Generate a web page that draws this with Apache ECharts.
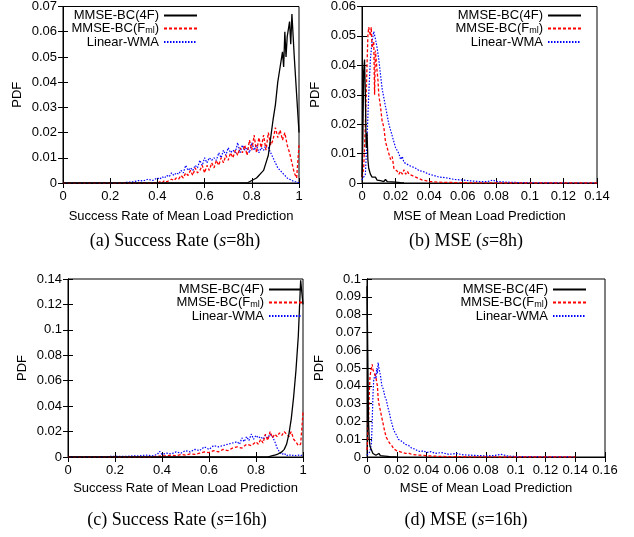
<!DOCTYPE html>
<html><head><meta charset="utf-8">
<script src="https://cdn.jsdelivr.net/npm/echarts@6/dist/echarts.min.js"></script>
<style>html,body{margin:0;padding:0;background:#fff}#c{width:634px;height:537px}</style>
</head><body><div id="c"></div>
<script>
// ---------- data: [x, pdf] pairs ----------
// (a) Success rate, s=8h
var aBlack = [[0,0],[0.78,0],[0.79,0.0005],[0.80,0.001],[0.81,0.0015],[0.82,0.002],[0.83,0.003],[0.84,0.004],[0.85,0.005],[0.86,0.008],[0.87,0.011],[0.88,0.018],[0.89,0.025],[0.90,0.031],[0.91,0.040],[0.92,0.046],[0.93,0.052],[0.935,0.046],[0.94,0.060],[0.945,0.050],[0.95,0.058],[0.96,0.064],[0.965,0.055],[0.97,0.067],[0.98,0.050],[0.99,0.035],[1.00,0.020]];
var aRed = [[0,0],[0.40,0],[0.41,0.0005],[0.42,0],[0.43,0.001],[0.44,0.0005],[0.45,0.001],[0.46,0.0015],[0.47,0.001],[0.48,0.002],[0.49,0.0015],[0.50,0.003],[0.51,0.002],[0.52,0.004],[0.53,0.003],[0.54,0.005],[0.55,0.003],[0.56,0.006],[0.57,0.004],[0.58,0.005],[0.59,0.007],[0.60,0.004],[0.61,0.007],[0.62,0.005],[0.63,0.008],[0.64,0.006],[0.65,0.009],[0.66,0.007],[0.67,0.010],[0.68,0.008],[0.69,0.011],[0.70,0.009],[0.71,0.012],[0.72,0.010],[0.73,0.013],[0.74,0.011],[0.75,0.014],[0.76,0.012],[0.77,0.015],[0.78,0.011],[0.79,0.017],[0.80,0.013],[0.81,0.019],[0.82,0.012],[0.83,0.018],[0.84,0.014],[0.85,0.019],[0.86,0.013],[0.87,0.020],[0.88,0.015],[0.89,0.017],[0.90,0.022],[0.91,0.018],[0.92,0.021],[0.93,0.017],[0.94,0.020],[0.95,0.015],[0.96,0.012],[0.97,0.008],[0.98,0.004],[0.99,0.002],[1.00,0.015]];
var aBlue = [[0,0],[0.25,0],[0.27,0.0003],[0.30,0.0005],[0.32,0.001],[0.34,0.0008],[0.36,0.0015],[0.38,0.001],[0.40,0.002],[0.41,0.0015],[0.42,0.0025],[0.43,0.002],[0.44,0.003],[0.45,0.0025],[0.46,0.004],[0.47,0.003],[0.48,0.004],[0.49,0.0035],[0.50,0.005],[0.51,0.004],[0.52,0.007],[0.53,0.005],[0.54,0.006],[0.55,0.005],[0.56,0.007],[0.57,0.006],[0.58,0.009],[0.59,0.007],[0.60,0.010],[0.61,0.008],[0.62,0.010],[0.63,0.009],[0.64,0.010],[0.65,0.009],[0.66,0.012],[0.67,0.010],[0.68,0.013],[0.69,0.011],[0.70,0.014],[0.71,0.012],[0.72,0.013],[0.73,0.012],[0.74,0.016],[0.75,0.012],[0.76,0.015],[0.77,0.013],[0.78,0.014],[0.79,0.012],[0.80,0.016],[0.81,0.013],[0.82,0.015],[0.83,0.012],[0.84,0.014],[0.85,0.013],[0.86,0.015],[0.87,0.014],[0.88,0.012],[0.89,0.010],[0.90,0.008],[0.91,0.006],[0.92,0.005],[0.93,0.004],[0.94,0.003],[0.95,0.002],[0.96,0.0015],[0.97,0.001],[0.98,0.0005],[0.99,0.0005],[1.00,0]];
// (b) MSE, s=8h
var bBlack = [[0,0.002],[0.0005,0.015],[0.001,0.038],[0.0015,0.042],[0.002,0.030],[0.0025,0.012],[0.003,0.017],[0.0035,0.008],[0.004,0.005],[0.005,0.003],[0.006,0.002],[0.007,0.0015],[0.008,0.002],[0.009,0.001],[0.010,0.0015],[0.011,0.0008],[0.012,0.001],[0.013,0.0005],[0.014,0.0012],[0.015,0.0005],[0.016,0.0008],[0.018,0.0004],[0.020,0.0003],[0.023,0.0001],[0.025,0]];
var bRed = [[0,0.002],[0.001,0.005],[0.002,0.020],[0.003,0.040],[0.0035,0.050],[0.004,0.053],[0.005,0.050],[0.0055,0.053],[0.006,0.046],[0.007,0.048],[0.0075,0.030],[0.008,0.045],[0.009,0.038],[0.0095,0.035],[0.010,0.030],[0.011,0.026],[0.012,0.021],[0.013,0.019],[0.014,0.014],[0.015,0.012],[0.016,0.010],[0.017,0.008],[0.018,0.009],[0.019,0.005],[0.020,0.005],[0.021,0.004],[0.022,0.003],[0.023,0.004],[0.024,0.003],[0.025,0.0045],[0.026,0.003],[0.027,0.004],[0.028,0.003],[0.030,0.0025],[0.032,0.002],[0.034,0.0015],[0.036,0.001],[0.038,0.0008],[0.040,0.0005],[0.045,0.0003],[0.050,0.0002],[0.060,0.0001],[0.080,0],[0.140,0]];
var bBlue = [[0,0.001],[0.002,0.003],[0.003,0.015],[0.004,0.030],[0.005,0.042],[0.006,0.048],[0.007,0.0515],[0.008,0.049],[0.009,0.046],[0.010,0.042],[0.011,0.037],[0.012,0.032],[0.013,0.029],[0.014,0.026],[0.015,0.023],[0.016,0.020],[0.017,0.018],[0.018,0.016],[0.019,0.014],[0.020,0.012],[0.021,0.011],[0.022,0.010],[0.023,0.008],[0.024,0.009],[0.025,0.007],[0.026,0.0075],[0.028,0.006],[0.030,0.0055],[0.032,0.005],[0.034,0.0042],[0.036,0.004],[0.038,0.0035],[0.040,0.003],[0.043,0.0025],[0.046,0.002],[0.050,0.0018],[0.055,0.0012],[0.060,0.001],[0.065,0.0007],[0.070,0.0005],[0.075,0.0005],[0.078,0.001],[0.080,0.0005],[0.090,0.0002],[0.100,0.0001],[0.120,0],[0.140,0]];
// (c) Success rate, s=16h
var cBlack = [[0,0],[0.85,0],[0.86,0.0005],[0.87,0.001],[0.88,0.0015],[0.89,0.002],[0.90,0.003],[0.91,0.004],[0.92,0.006],[0.93,0.010],[0.94,0.018],[0.95,0.030],[0.96,0.047],[0.97,0.068],[0.98,0.095],[0.99,0.139],[1.00,0.120]];
var cRed = [[0,0],[0.35,0],[0.38,0.0005],[0.40,0.001],[0.42,0.0008],[0.44,0.0015],[0.46,0.001],[0.48,0.002],[0.50,0.0015],[0.52,0.0025],[0.54,0.002],[0.56,0.003],[0.58,0.004],[0.60,0.0035],[0.62,0.005],[0.64,0.004],[0.66,0.006],[0.68,0.005],[0.70,0.007],[0.72,0.008],[0.74,0.007],[0.76,0.010],[0.78,0.009],[0.80,0.012],[0.81,0.010],[0.82,0.014],[0.83,0.011],[0.84,0.018],[0.85,0.013],[0.86,0.020],[0.87,0.015],[0.88,0.018],[0.89,0.016],[0.90,0.019],[0.91,0.017],[0.92,0.020],[0.93,0.018],[0.94,0.016],[0.95,0.020],[0.96,0.014],[0.97,0.012],[0.98,0.009],[0.99,0.010],[1.00,0.035]];
var cBlue = [[0,0],[0.15,0.0003],[0.20,0.0005],[0.25,0.0005],[0.28,0.001],[0.30,0.0008],[0.33,0.0015],[0.36,0.001],[0.38,0.002],[0.39,0.0045],[0.40,0.002],[0.42,0.003],[0.44,0.0025],[0.46,0.004],[0.48,0.003],[0.50,0.005],[0.52,0.004],[0.54,0.006],[0.56,0.005],[0.58,0.008],[0.60,0.006],[0.62,0.009],[0.64,0.008],[0.66,0.009],[0.68,0.010],[0.70,0.011],[0.72,0.012],[0.73,0.010],[0.74,0.015],[0.75,0.012],[0.76,0.016],[0.77,0.013],[0.78,0.018],[0.79,0.014],[0.80,0.017],[0.81,0.015],[0.82,0.016],[0.83,0.014],[0.84,0.017],[0.85,0.015],[0.86,0.018],[0.87,0.016],[0.88,0.012],[0.89,0.007],[0.90,0.004],[0.91,0.002],[0.92,0.003],[0.93,0.001],[0.94,0.002],[0.95,0.001],[0.96,0.0015],[0.97,0.001],[0.98,0.0015],[0.99,0.001],[1.00,0.002]];
// (d) MSE, s=16h
var dBlack = [[0,0.096],[0.0005,0.060],[0.001,0.020],[0.0015,0.010],[0.002,0.006],[0.003,0.004],[0.004,0.002],[0.005,0.003],[0.006,0.001],[0.007,0.0015],[0.008,0.002],[0.009,0.0008],[0.010,0.0012],[0.012,0.0005],[0.014,0.0003],[0.016,0.0001],[0.020,0]];
var dRed = [[0,0.004],[0.0005,0.010],[0.001,0.020],[0.0015,0.035],[0.002,0.045],[0.0025,0.048],[0.003,0.050],[0.0035,0.052],[0.004,0.049],[0.005,0.047],[0.006,0.045],[0.0065,0.042],[0.007,0.040],[0.0075,0.033],[0.008,0.030],[0.009,0.026],[0.010,0.022],[0.011,0.018],[0.012,0.014],[0.013,0.011],[0.014,0.0095],[0.015,0.008],[0.016,0.007],[0.017,0.006],[0.018,0.0045],[0.019,0.005],[0.020,0.0035],[0.022,0.003],[0.024,0.0025],[0.026,0.002],[0.028,0.0022],[0.030,0.0015],[0.033,0.0012],[0.036,0.001],[0.040,0.0007],[0.045,0.0005],[0.050,0.0003],[0.060,0.0002],[0.070,0.0001],[0.090,0],[0.140,0]];
var dBlue = [[0,0.001],[0.001,0.002],[0.002,0.003],[0.003,0.008],[0.0035,0.020],[0.004,0.035],[0.0045,0.043],[0.005,0.045],[0.0055,0.047],[0.006,0.044],[0.0065,0.050],[0.007,0.047],[0.0075,0.053],[0.008,0.050],[0.009,0.046],[0.010,0.040],[0.011,0.038],[0.012,0.034],[0.013,0.032],[0.014,0.028],[0.015,0.025],[0.016,0.021],[0.017,0.018],[0.018,0.015],[0.019,0.014],[0.020,0.012],[0.021,0.010],[0.022,0.011],[0.023,0.009],[0.024,0.008],[0.026,0.007],[0.028,0.0065],[0.030,0.005],[0.032,0.0045],[0.034,0.0035],[0.036,0.003],[0.038,0.0035],[0.040,0.0025],[0.043,0.003],[0.046,0.002],[0.050,0.0025],[0.055,0.0015],[0.060,0.002],[0.065,0.0012],[0.070,0.001],[0.075,0.0008],[0.080,0.0006],[0.085,0.0008],[0.090,0.0015],[0.095,0.0005],[0.100,0.0003],[0.110,0.0002],[0.120,0.0001],[0.140,0]];

var seriesNames = ['MMSE-BC(4F)', 'MMSE-BC(Fml)', 'Linear-WMA'];
var xNames = ['Success Rate of Mean Load Prediction', 'MSE of Mean Load Prediction', 'Success Rate of Mean Load Prediction', 'MSE of Mean Load Prediction'];
var yName = 'PDF';
var xRanges = [[0, 1, 0.2], [0, 0.14, 0.02], [0, 1, 0.2], [0, 0.16, 0.02]];
var yRanges = [[0, 0.07, 0.01], [0, 0.06, 0.01], [0, 0.14, 0.02], [0, 0.1, 0.01]];
var captions = ['(a) Success Rate (', '(b) MSE (', '(c) Success Rate (', '(d) MSE ('];
var captionHours = ['=8h)', '=8h)', '=16h)', '=16h)'];
var panelData = [[aBlack, aRed, aBlue], [bBlack, bRed, bBlue], [cBlack, cRed, cBlue], [dBlack, dRed, dBlue]];

// ---------- layout / style ----------
var grids = [
  {left: 63, top: 6, width: 236, height: 177},
  {left: 362, top: 5, width: 235, height: 178},
  {left: 68, top: 279, width: 235, height: 178},
  {left: 367, top: 279, width: 238, height: 178}
];
var legendPos = [{right: 436, top: 9}, {right: 52, top: 9}, {right: 331, top: 283}, {right: 47, top: 283}];
var yNameGap = [39, 40, 39, 41];
var xNameGap = [27, 27, 25, 25];
var captionPos = [[175, 232], [466, 232], [177, 511], [466, 511]];
var lineStyles = [
  {color: '#000000', width: 1.3, type: 'solid'},
  {color: '#ff0000', width: 1.3, type: [3, 2]},
  {color: '#0000ff', width: 1.2, type: [1.5, 1.5]}
];
var FONT = 'Liberation Sans';
function fmt(v) { return String(+v.toFixed(4)); }

var option = {animation: false, grid: [], xAxis: [], yAxis: [], series: [], legend: [], title: []};
grids.forEach(function (g, i) {
  option.grid.push(Object.assign({show: true, borderColor: '#000', borderWidth: 1, backgroundColor: 'transparent'}, g));
  var xr = xRanges[i], yr = yRanges[i];
  var common = {axisLine: {show: true, lineStyle: {color: '#000', width: 1}}, splitLine: {show: false}};
  option.xAxis.push(Object.assign({
    type: 'value', gridIndex: i, position: 'bottom', min: xr[0], max: xr[1], interval: xr[2],
    name: xNames[i], nameLocation: 'middle', nameGap: xNameGap[i],
    nameTextStyle: {fontFamily: FONT, fontSize: 13, color: '#000'},
    axisTick: {inside: true, length: 5, lineStyle: {color: '#000'}},
    axisLabel: {fontFamily: FONT, fontSize: 13, color: '#000', margin: 7, formatter: fmt}
  }, common));
  option.xAxis.push(Object.assign({
    type: 'value', gridIndex: i, position: 'top', min: xr[0], max: xr[1], interval: xr[2],
    axisTick: {inside: true, length: 5, lineStyle: {color: '#000'}}, axisLabel: {show: false}
  }, common));
  option.yAxis.push(Object.assign({
    type: 'value', gridIndex: i, position: 'left', min: yr[0], max: yr[1], interval: yr[2],
    name: yName, nameLocation: 'middle', nameGap: yNameGap[i], nameRotate: 90,
    nameTextStyle: {fontFamily: FONT, fontSize: 13, color: '#000'},
    axisTick: {inside: true, length: 5, lineStyle: {color: '#000'}},
    axisLabel: {fontFamily: FONT, fontSize: 13, color: '#000', margin: 6, formatter: fmt}
  }, common));
  option.yAxis.push(Object.assign({
    type: 'value', gridIndex: i, position: 'right', min: yr[0], max: yr[1], interval: yr[2],
    axisTick: {inside: true, length: 5, lineStyle: {color: '#000'}}, axisLabel: {show: false}
  }, common));
  panelData[i].forEach(function (d, k) {
    option.series.push({
      type: 'line', name: seriesNames[k], xAxisIndex: i * 2, yAxisIndex: i * 2,
      data: d, showSymbol: false, symbol: 'none', lineStyle: lineStyles[k],
      itemStyle: {color: lineStyles[k].color}, z: 3 - k
    });
  });
  option.legend.push(Object.assign({
    orient: 'vertical', align: 'right', padding: 0, itemGap: 0, itemWidth: 33, itemHeight: 10,
    data: seriesNames, itemStyle: {opacity: 0},
    formatter: function (n) { return n === 'MMSE-BC(Fml)' ? 'MMSE-BC(F{sub|ml})' : n; },
    textStyle: {fontFamily: FONT, fontSize: 13, color: '#000', rich: {sub: {fontFamily: FONT, fontSize: 9, color: '#000', padding: [5, 0, 0, 0]}}}
  }, legendPos[i]));
  option.title.push({
    text: captions[i] + '{it|s}' + captionHours[i],
    left: captionPos[i][0], top: captionPos[i][1], textAlign: 'center', padding: 0,
    textStyle: {fontFamily: 'Liberation Serif', fontSize: 18, fontWeight: 'normal', color: '#000',
      rich: {it: {fontFamily: 'Liberation Serif', fontSize: 18, fontStyle: 'italic', color: '#000'}}}
  });
});

var chart = echarts.init(document.getElementById('c'), null, {renderer: 'canvas'});
chart.setOption(option);
</script></body></html>
